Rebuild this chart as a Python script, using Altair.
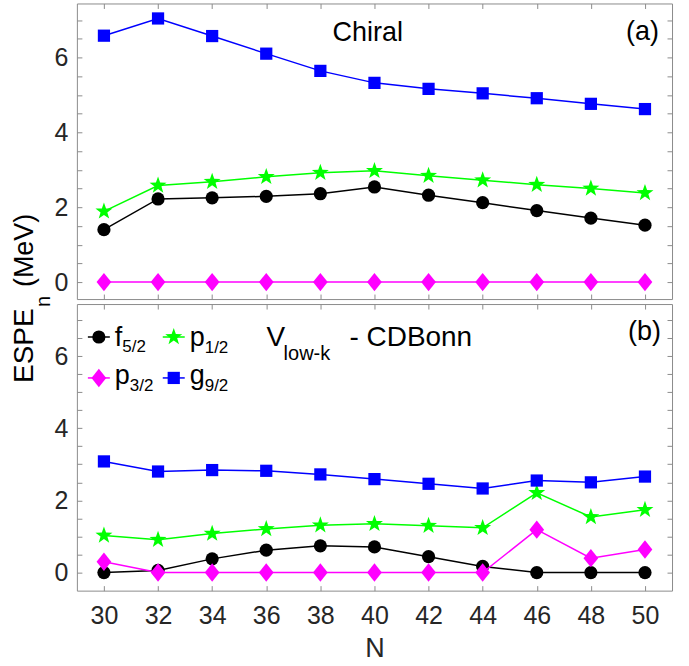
import altair as alt
import pandas as pd

FONT = "Liberation Sans"

# ---------------- data ----------------
N = [30, 32, 34, 36, 38, 40, 42, 44, 46, 48, 50]
orbitals = ["f5/2", "p3/2", "p1/2", "g9/2"]

chiral_f52 = [1.40, 2.22, 2.25, 2.29, 2.36, 2.54, 2.32, 2.12, 1.91, 1.71, 1.52]
chiral_p32 = [0.0, 0.0, 0.0, 0.0, 0.0, 0.0, 0.0, 0.0, 0.0, 0.0, 0.0]
chiral_p12 = [1.89, 2.58, 2.68, 2.81, 2.92, 2.97, 2.84, 2.72, 2.60, 2.50, 2.38]
chiral_g92 = [6.58, 7.04, 6.57, 6.10, 5.64, 5.32, 5.16, 5.04, 4.91, 4.76, 4.62]

vlowk_f52 = [0.0, 0.06, 0.38, 0.62, 0.74, 0.71, 0.44, 0.17, 0.0, 0.0, 0.0]
vlowk_p32 = [0.30, 0.0, 0.0, 0.0, 0.0, 0.0, 0.0, 0.0, 1.19, 0.40, 0.64]
vlowk_p12 = [1.03, 0.91, 1.08, 1.21, 1.31, 1.35, 1.30, 1.24, 2.21, 1.54, 1.74]
vlowk_g92 = [3.08, 2.80, 2.84, 2.82, 2.72, 2.59, 2.46, 2.33, 2.55, 2.50, 2.66]

x_ticks = [30, 32, 34, 36, 38, 40, 42, 44, 46, 48, 50]
y_ticks = [0, 0.5, 1, 1.5, 2, 2.5, 3, 3.5, 4, 4.5, 5, 5.5, 6, 6.5, 7]

colors = ["#000000", "#ff00ff", "#00ff00", "#0000ff"]
STAR = ("M0,-1L0.235,-0.324L0.951,-0.309L0.380,0.124L0.588,0.809L0,0.4"
        "L-0.588,0.809L-0.380,0.124L-0.951,-0.309L-0.235,-0.324Z")
DIAMOND = "M0,-1L0.8,0L0,1L-0.8,0Z"
shapes = ["circle", DIAMOND, STAR, "square"]
sizes = [175, 340, 320, 150]

one = alt.Data(values=[{"a": 1}])
W = 596


def txt(s, x, y, size=27, align="left", angle=0, color="black"):
    kw = dict(text=s, align=align, baseline="alphabetic", fontSize=size,
              font=FONT, color=color)
    if angle:
        kw["angle"] = angle
    return alt.Chart(one).mark_text(**kw).encode(x=alt.value(x), y=alt.value(y))


def panel(series, ydom, bottom):
    xs = alt.Scale(domain=[29, 51], nice=False, zero=False)
    ys = alt.Scale(domain=ydom, nice=False, zero=False)
    lab_expr = "datum.value % 2 == 0 ? format(datum.value, 'd') : ''"
    x_bot = alt.Axis(orient="bottom", values=x_ticks, offset=-5, tickSize=5,
                     domain=False, grid=False, labels=bottom, labelPadding=13,
                     titlePadding=7, titleFontSize=27)
    x_top = alt.Axis(orient="top", values=x_ticks, offset=-5, tickSize=5,
                     domain=False, grid=False, labels=False)
    y_left = alt.Axis(orient="left", values=y_ticks, offset=-5, tickSize=5,
                      domain=False, grid=False, labelExpr=lab_expr, labelPadding=9)
    y_right = alt.Axis(orient="right", values=y_ticks, offset=-5, tickSize=5,
                       domain=False, grid=False, labels=False)
    xtitle = "N" if bottom else None
    layers = []
    for k, vals in enumerate(series):
        df = pd.DataFrame({"N": N, "E": vals})
        first = k == 0
        lines = alt.Chart(df).mark_line(strokeWidth=1.5, color=colors[k]).encode(
            x=alt.X("N:Q", scale=xs, axis=x_bot if first else None, title=xtitle),
            y=alt.Y("E:Q", scale=ys, axis=y_left if first else None, title=None),
        )
        pts = alt.Chart(df).mark_point(filled=True, opacity=1, shape=shapes[k],
                                       size=sizes[k], color=colors[k]).encode(
            x=alt.X("N:Q", scale=xs, axis=x_top if first else None, title=None),
            y=alt.Y("E:Q", scale=ys, axis=y_right if first else None, title=None),
        )
        layers += [lines, pts]
    return layers


top_layers = panel([chiral_f52, chiral_p32, chiral_p12, chiral_g92], [-0.453, 7.44], False)
bot_layers = panel([vlowk_f52, vlowk_p32, vlowk_p12, vlowk_g92], [-0.50, 7.44], True)

# annotations panel (a)
ann_a = [
    txt("Chiral", 256, 38),
    txt("(a)", 583, 37, align="right"),
    # y title spanning both panels
    txt("ESPE", -44, 380, size=28, angle=270),
    txt("n", -27, 304, size=20, angle=270),
    txt("(MeV)", -44, 284, size=27, angle=270),
]
top = alt.layer(*top_layers, *ann_a).resolve_axis(
    x="independent", y="independent").properties(width=W, height=296)

# annotations panel (b): legend and title
leg = []
entries = [
    ("f", "5/2", 0, 22, 33, 42, 48, 7.5),
    ("p", "1/2", 2, 97, 33, 42, 49, 15),
    ("p", "3/2", 1, 22, 74, 80, 87, 15),
    ("g", "9/2", 3, 97, 74, 80, 87, 15),
]
for main, sub, k, sx, sy, by, sby, lw in entries:
    leg.append(alt.Chart(one).mark_rule(color=colors[k], strokeWidth=1.5).encode(
        x=alt.value(sx - 11), x2=alt.value(sx + 11), y=alt.value(sy)))
    leg.append(alt.Chart(one).mark_point(filled=True, opacity=1, shape=shapes[k],
                                         size=sizes[k], color=colors[k]).encode(
        x=alt.value(sx), y=alt.value(sy)))
    leg.append(txt(main, sx + 16, by))
    leg.append(txt(sub, sx + 16 + lw, sby, size=17))

ann_b = leg + [
    txt("V", 190, 42, size=28),
    txt("low-k", 207, 56, size=20),
    txt("- CDBonn", 273, 42, size=28),
    txt("(b)", 585, 36, align="right"),
]
bot = alt.layer(*bot_layers, *ann_b).resolve_axis(
    x="independent", y="independent").properties(width=W, height=287)

chart = alt.vconcat(top, bot, spacing=5, bounds="flush").properties(
    padding={"left": 10, "top": 2, "right": 16, "bottom": 6}
).configure_view(stroke="#8c8c8c", strokeWidth=1).configure_axis(
    labelFont=FONT, labelFontSize=25, labelColor="#262626",
    tickColor="#8c8c8c", tickWidth=1,
    titleFont=FONT, titleFontSize=26, titleColor="#262626", titleFontWeight="normal",
)

chart.save("out.html", embed_options={"renderer": "svg", "actions": False})
